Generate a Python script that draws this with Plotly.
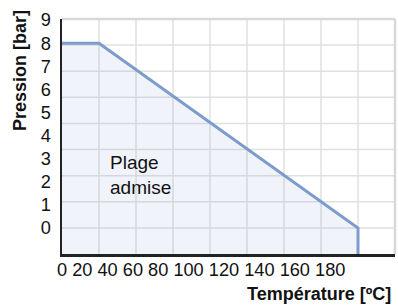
import plotly.graph_objects as go

# ---- data ----
TEMP = [0, 20, 160]          # x positions on the chart's temperature scale
PRES = [8, 8, 0]             # pressure [bar]
X_LABELS = ["0", "20", "40", "60", "80", "100", "120", "140", "160", "180"]
Y_LABELS = [0, 1, 2, 3, 4, 5, 6, 7, 8, 9]

# ---- layout geometry ----
W, H = 398, 306
L, R, T, B = 62, 3, 19, 52
PW, PH = W - L - R, H - T - B
X_MIN, X_MAX = 0, 180
Y_MIN, Y_MAX = -26 / 23.1, 209 / 23.1
FONT = "Liberation Sans, Arial, sans-serif"
TICK_SIZE = 18.2

# x tick labels are laid out like one spaced string starting at px 57
digit_w, space_w = 0.556 * TICK_SIZE, 0.278 * TICK_SIZE
x_tickvals = []
cur = 57.0
for lab in X_LABELS:
    w = len(lab) * digit_w
    centre = cur + w / 2
    x_tickvals.append((centre - L) / PW * (X_MAX - X_MIN) + X_MIN)
    cur += w + space_w

x_grid = [X_MIN + (X_MAX - X_MIN) * i / 9 for i in range(1, 9)]
y_grid = [Y_MAX - (Y_MAX - Y_MIN) * i / 9 for i in range(1, 9)]

line_x = TEMP + [TEMP[-1]]
line_y = PRES + [Y_MIN]
fill_x = TEMP + [TEMP[-1], TEMP[0]]
fill_y = PRES + [Y_MIN, Y_MIN]

fig = go.Figure()
fig.add_trace(go.Scatter(x=fill_x, y=fill_y, fill="toself", mode="none",
                         fillcolor="rgba(130,160,210,0.12)", hoverinfo="skip"))
fig.add_trace(go.Scatter(x=line_x, y=line_y, mode="lines",
                         line=dict(color="#7d9ccb", width=3)))

GRID = dict(color="#e0e0e0", width=1.5)
for gx in x_grid:
    fig.add_shape(type="line", xref="x", yref="paper", x0=gx, x1=gx, y0=0, y1=1,
                  line=GRID, layer="below")
for gy in y_grid:
    fig.add_shape(type="line", xref="paper", yref="y", x0=0, x1=1, y0=gy, y1=gy,
                  line=GRID, layer="below")

# top / right light border
fig.add_shape(type="line", xref="paper", yref="paper", x0=0, x1=1, y0=1, y1=1,
              line=dict(color="#d8d8d8", width=2.5))
fig.add_shape(type="line", xref="paper", yref="paper", x0=1, x1=1, y0=0, y1=1,
              line=dict(color="#d8d8d8", width=2.5))

def px_x(p):
    return (p - L) / PW

def px_y(p):
    return (H - B - p) / PH

fig.add_annotation(text="Plage<br>admise", x=px_x(108), y=px_y(174.5),
                   xref="paper", yref="paper", showarrow=False, align="left",
                   xanchor="left", yanchor="middle",
                   font=dict(family=FONT, size=19, color="#111"))
fig.add_annotation(text="<b>Pression [bar]</b>", x=px_x(20), y=px_y(71),
                   xref="paper", yref="paper", showarrow=False, textangle=-90,
                   xanchor="center", yanchor="middle",
                   font=dict(family=FONT, size=18, color="#111"))
fig.add_annotation(text="<b>Température [ºC]</b>", x=px_x(393), y=px_y(294),
                   xref="paper", yref="paper", showarrow=False,
                   xanchor="right", yanchor="middle",
                   font=dict(family=FONT, size=18, color="#111"))

fig.update_layout(
    template="none",
    width=W, height=H, margin=dict(l=L, r=R, t=T, b=B, autoexpand=False),
    paper_bgcolor="white", plot_bgcolor="white", showlegend=False,
    font=dict(family=FONT, size=TICK_SIZE, color="#111"),
)
fig.update_xaxes(range=[X_MIN, X_MAX], tickmode="array", tickvals=x_tickvals,
                 ticktext=X_LABELS, showgrid=False, zeroline=False, automargin=False,
                 showline=True, linecolor="#222", linewidth=2.5, ticks="", ticklen=0,
                 ticklabelstandoff=-2)
fig.update_yaxes(range=[Y_MIN, Y_MAX], tickmode="array", tickvals=Y_LABELS,
                 ticktext=[str(v) for v in Y_LABELS], showgrid=False, zeroline=False,
                 automargin=False, showline=True, linecolor="#222", linewidth=2.5,
                 ticks="", ticklen=0, ticklabelstandoff=5)

fig.write_html("out.html",
               config={"displayModeBar": False, "staticPlot": True},
               post_script="document.body.style.margin='0';"
                           "document.body.style.overflow='hidden';")
